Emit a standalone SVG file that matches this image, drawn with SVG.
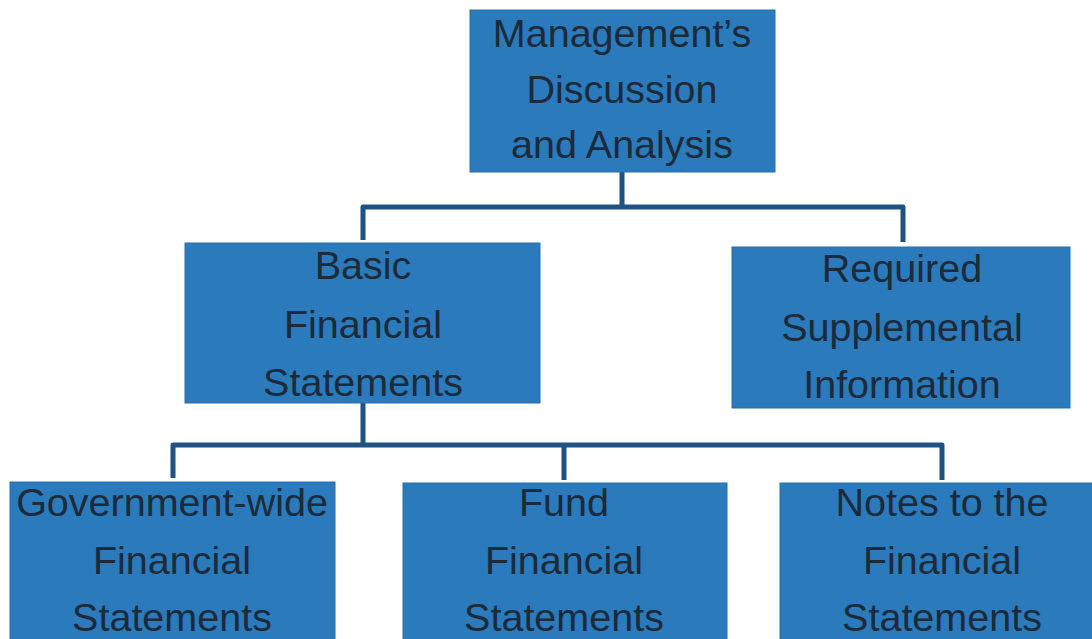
<svg xmlns="http://www.w3.org/2000/svg" width="1092" height="639" viewBox="0 0 1092 639">
<style>
.box{fill:#2a7abc;stroke:#2670ad;stroke-width:1}
.lbl{font-family:"Liberation Sans",Arial,sans-serif;font-size:39.5px;fill:#1c2a3a;text-anchor:middle}
.conn{fill:none;stroke:#1d5282;stroke-width:5;stroke-linejoin:round}
</style>
<rect width="1092" height="639" fill="#ffffff"/>
<g id="connectors">
<path class="conn" d="M622 172 V207 M363 240 V207 H903 V242"/>
<path class="conn" d="M363 403 V445 M173 478 V445 H942 V480 M564 445 V480"/>
</g>
<g id="mda">
<rect class="box" x="470" y="10" width="305" height="162"/>
<text class="lbl" x="622" y="47">Management’s</text>
<text class="lbl" x="622" y="103">Discussion</text>
<text class="lbl" x="622" y="158">and Analysis</text>
</g>
<g id="basic">
<rect class="box" x="185" y="243" width="355" height="160"/>
<text class="lbl" x="363" y="279">Basic</text>
<text class="lbl" x="363" y="338">Financial</text>
<text class="lbl" x="363" y="396">Statements</text>
</g>
<g id="rsi">
<rect class="box" x="732" y="247" width="338" height="161"/>
<text class="lbl" x="902" y="282">Required</text>
<text class="lbl" x="902" y="341">Supplemental</text>
<text class="lbl" x="902" y="398">Information</text>
</g>
<g id="gwfs">
<rect class="box" x="10" y="482" width="325" height="170"/>
<text class="lbl" x="172" y="516">Government-wide</text>
<text class="lbl" x="172" y="574">Financial</text>
<text class="lbl" x="172" y="631">Statements</text>
</g>
<g id="ffs">
<rect class="box" x="403" y="483" width="324" height="170"/>
<text class="lbl" x="564" y="516">Fund</text>
<text class="lbl" x="564" y="574">Financial</text>
<text class="lbl" x="564" y="631">Statements</text>
</g>
<g id="notes">
<rect class="box" x="780" y="483" width="320" height="170"/>
<text class="lbl" x="942" y="516">Notes to the</text>
<text class="lbl" x="942" y="574">Financial</text>
<text class="lbl" x="942" y="631">Statements</text>
</g>
</svg>
